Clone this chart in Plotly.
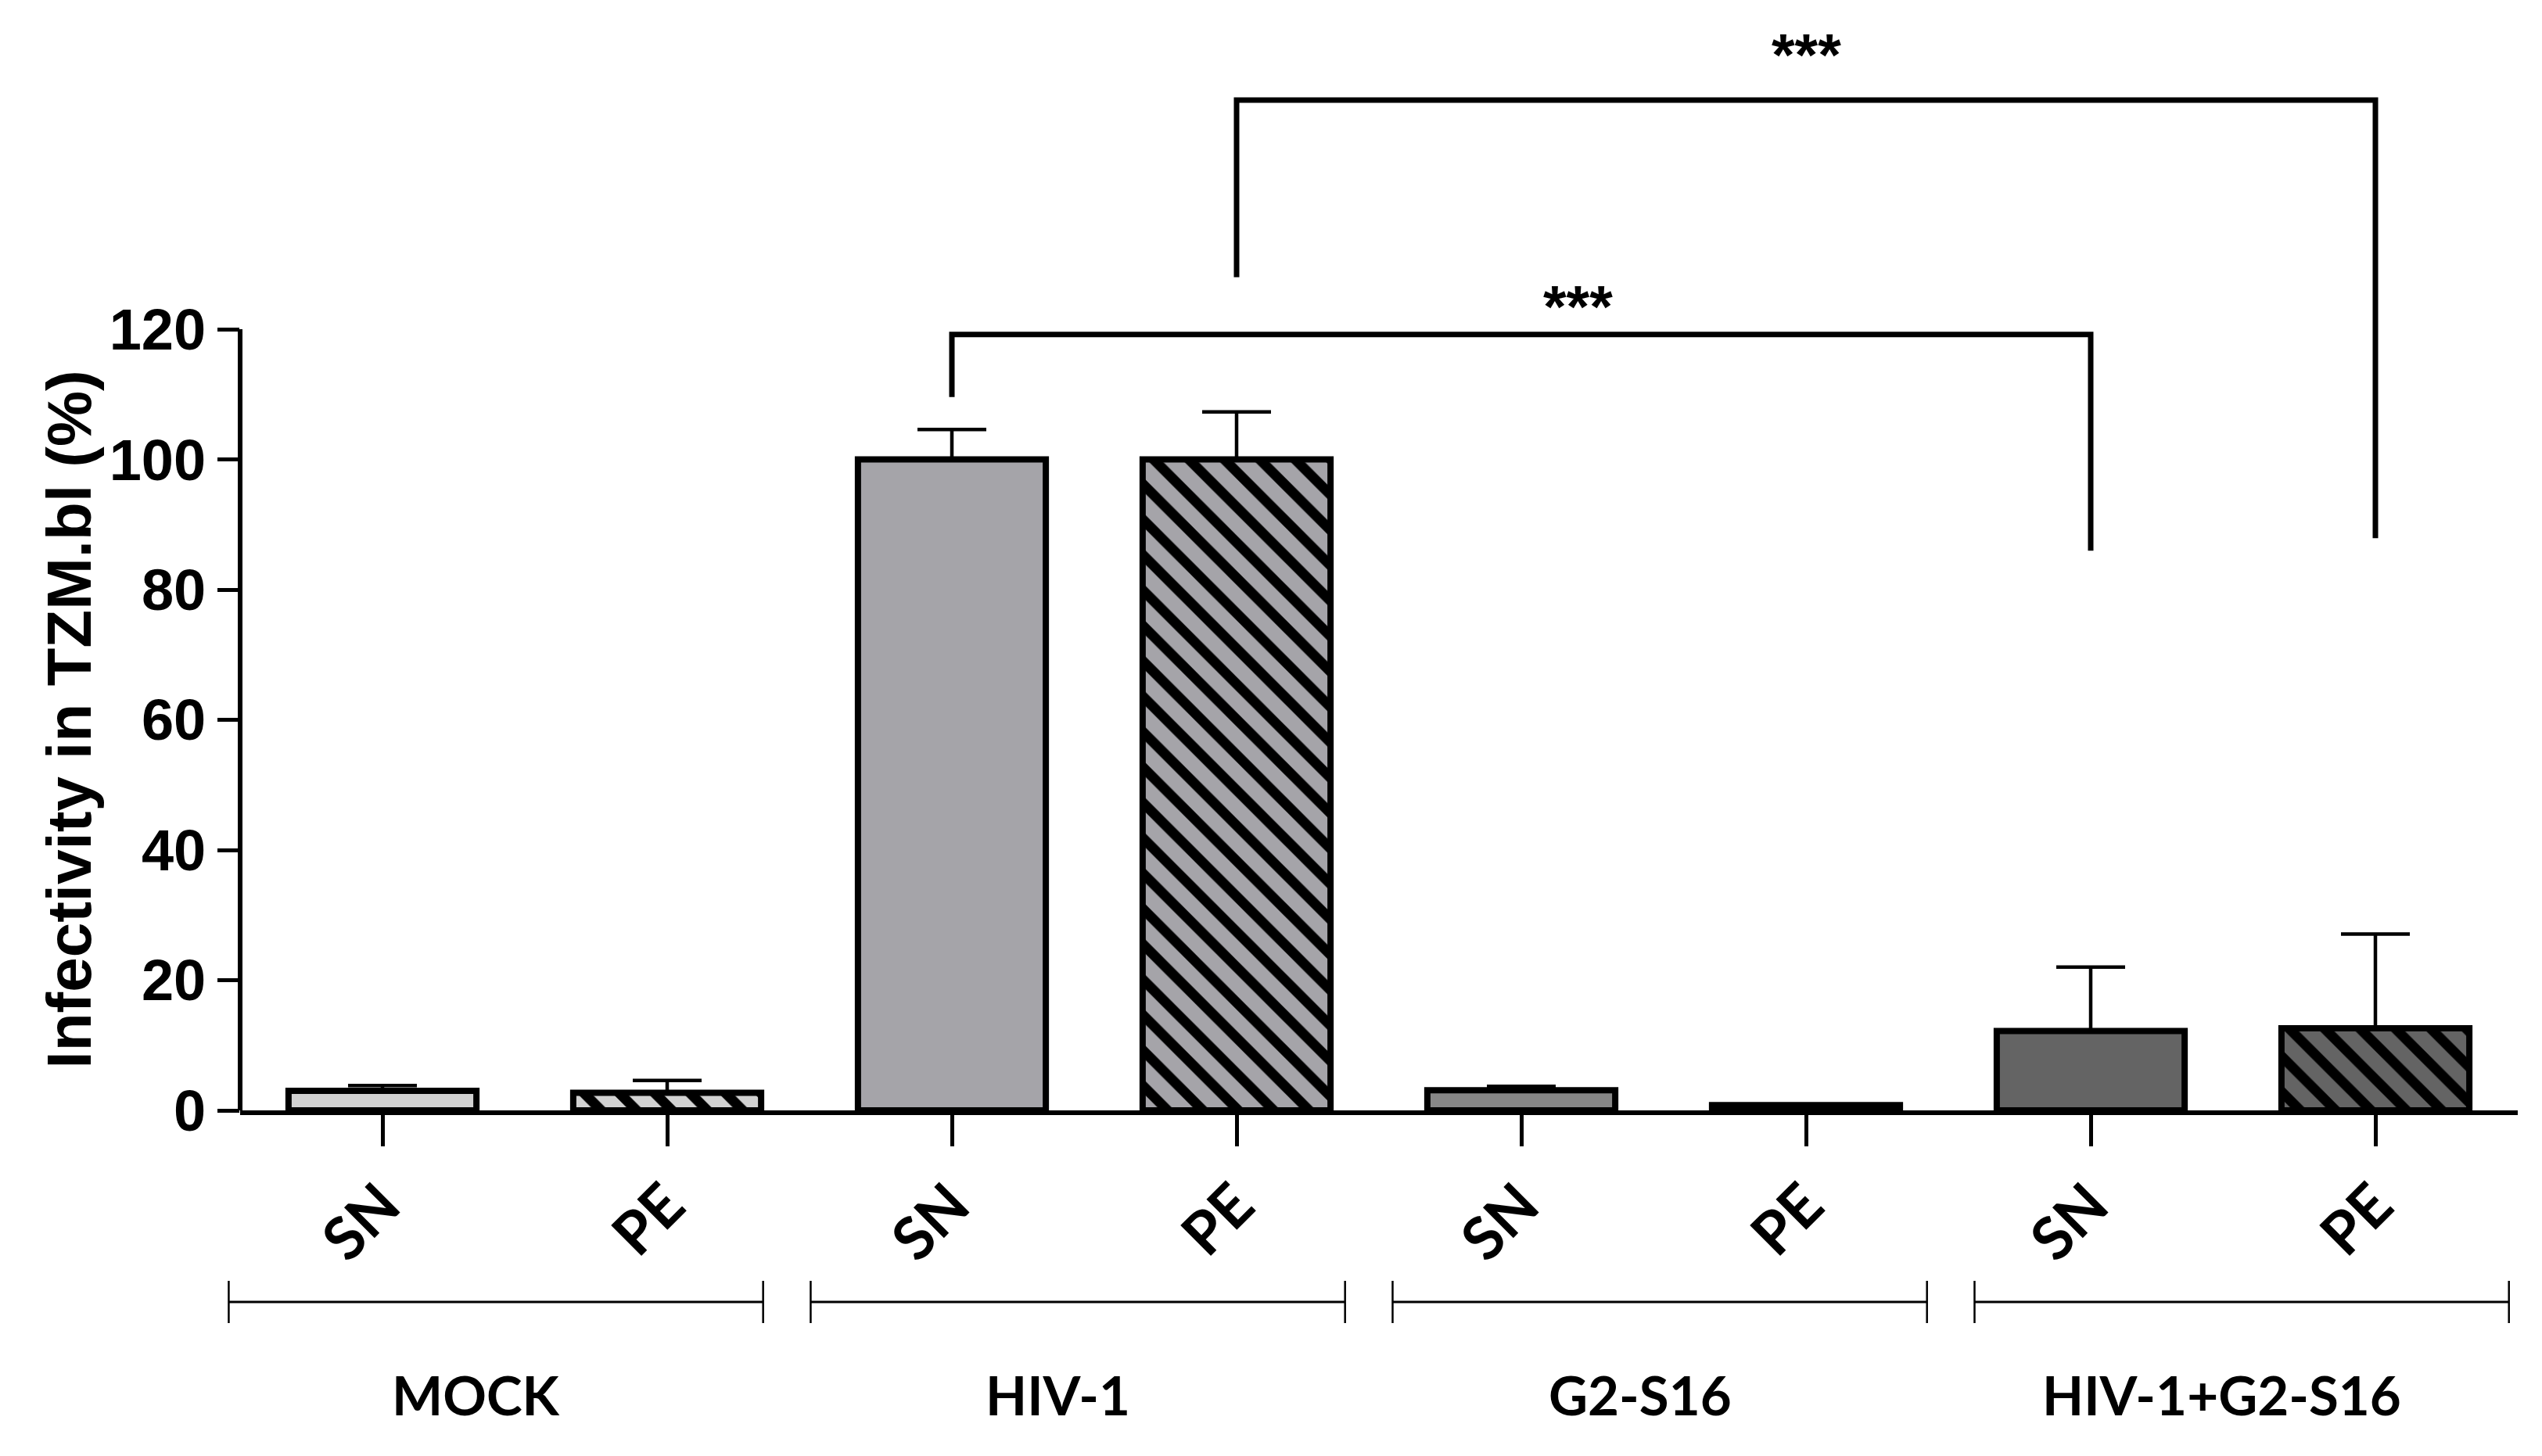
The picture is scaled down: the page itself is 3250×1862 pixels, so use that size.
import plotly.graph_objects as go

# bar data
groups = ["MOCK", "HIV-1", "G2-S16", "HIV-1+G2-S16"]
samples = ["SN", "PE"]
group_colors = ["#d2d2d2", "#a5a4a9", "#878787", "#646464"]
sn_values = [3.0, 100.0, 3.1, 12.2]
sn_errors = [0.8, 4.6, 0.6, 9.8]
pe_values = [2.7, 100.0, 0.8, 12.6]
pe_errors = [1.9, 7.3, 0.0, 14.5]

# significance brackets: (from bar, to bar, bar height, left drop, right drop, star x, star y)
sig_brackets = [
    (2, 6, 119.2, 109.6, 86.0, 4.2, 125.8),
    (3, 7, 155.2, 128.0, 87.9, 5.0, 164.4),
]

# page body adds an 8px offset, so margins are trimmed by that
PLOT_H = 1412
PX_PER_UNIT = 8.324
YMAX = PLOT_H / PX_PER_UNIT
XMIN, XMAX = -0.5, 7.5


def xp(v):
    return (v - XMIN) / (XMAX - XMIN)


def yp(v):
    return v / YMAX


def ypx(px_from_axis):
    # paper y for a point px pixels below the x axis
    return -px_from_axis / PLOT_H


fig = go.Figure()

x_sn = [2 * g for g in range(len(groups))]
x_pe = [2 * g + 1 for g in range(len(groups))]

fig.add_trace(go.Bar(
    x=x_sn, y=sn_values, width=0.66,
    marker=dict(color=group_colors, line=dict(color="black", width=8)),
    error_y=dict(type="data", array=sn_errors, arrayminus=[0] * 4, symmetric=False,
                 color="black", thickness=4.5, width=44),
    showlegend=False,
))
# hatched bars, one trace per group so the stripe colour stays black
for g in range(len(groups)):
    fig.add_trace(go.Bar(
        x=[x_pe[g]], y=[pe_values[g]], width=0.66,
        marker=dict(color=group_colors[g], line=dict(color="black", width=8),
                    pattern=dict(shape="\\", fillmode="replace",
                                 fgcolor="black", bgcolor=group_colors[g], fgopacity=1,
                                 size=32, solidity=0.4)),
        error_y=dict(type="data", array=[pe_errors[g]], arrayminus=[0], symmetric=False,
                     color="black", thickness=4.5, width=44),
        showlegend=False,
    ))

shapes = []
# y axis line, only up to 120
shapes.append(dict(type="line", xref="paper", yref="paper", x0=0, x1=0,
                   y0=0, y1=yp(120), line=dict(color="black", width=6)))

annotations = []
for x1, x2, ybar, yl, yr, sx, sy in sig_brackets:
    shapes.append(dict(type="path", xref="x", yref="y",
                       path=f"M {x1},{yl} L {x1},{ybar} L {x2},{ybar} L {x2},{yr}",
                       line=dict(color="black", width=7)))
    annotations.append(dict(x=sx, y=sy - 2.2, xref="x", yref="y", text="***",
                            showarrow=False, xanchor="center", yanchor="middle",
                            font=dict(family="Liberation Sans", size=76, color="black",
                                      weight="bold")))

# group brackets under the axis
y_br = ypx(245)
tick_h = 27 / PLOT_H
for g, name in enumerate(groups):
    a = -0.54 + 2.044 * g
    b = a + 1.877
    shapes.append(dict(type="line", xref="paper", yref="paper", x0=xp(a), x1=xp(b),
                       y0=y_br, y1=y_br, line=dict(color="black", width=3)))
    for e in (a, b):
        shapes.append(dict(type="line", xref="paper", yref="paper", x0=xp(e), x1=xp(e),
                           y0=y_br - tick_h, y1=y_br + tick_h,
                           line=dict(color="black", width=2.5)))
    annotations.append(dict(x=xp((a + b) / 2 - 0.07), y=ypx(363),
                            xref="paper", yref="paper", text=name, showarrow=False,
                            xanchor="center", yanchor="middle",
                            font=dict(family="Lato", size=69, color="black", weight="bold")))

annotations.append(dict(x=0, y=60, xref="paper", yref="y", xshift=-218,
                        text="Infectivity in TZM.bl (%)", textangle=-90, showarrow=False,
                        xanchor="center", yanchor="middle",
                        font=dict(family="Liberation Sans Narrow, Liberation Sans", size=80,
                                  color="black", weight="bold")))

fig.update_layout(
    width=3250, height=1862,
    margin=dict(l=299, r=39, t=0, b=1862 - PLOT_H),
    plot_bgcolor="white", paper_bgcolor="white",
    barmode="overlay",
    shapes=shapes, annotations=annotations,
    xaxis=dict(range=[XMIN, XMAX], tickvals=list(range(8)),
               ticktext=[samples[i % 2] for i in range(8)],
               showline=True, linecolor="black", linewidth=6, showgrid=False, zeroline=False,
               ticks="outside", ticklen=40, tickwidth=5, tickcolor="black", tickangle=-45,
               tickfont=dict(family="Lato", size=76, color="black", weight="bold")),
    yaxis=dict(range=[0, YMAX], tickvals=[0, 20, 40, 60, 80, 100, 120],
               showline=False, showgrid=False, zeroline=False,
               ticks="outside", ticklen=28, tickwidth=5, tickcolor="black",
               tickfont=dict(family="Liberation Sans", size=74, color="black", weight="bold")),
)

fig.write_html("out.html")
